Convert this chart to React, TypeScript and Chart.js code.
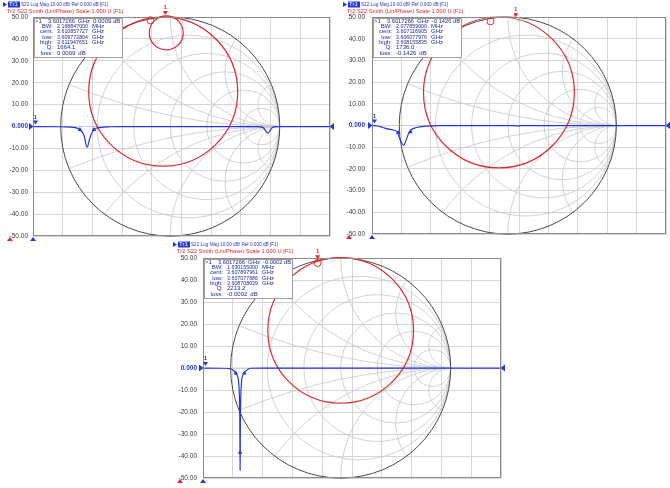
import React, { useEffect, useRef } from "react";
import { Chart, registerables } from "chart.js";

Chart.register(...registerables);

// ---------------- shared axis / grid data ----------------
const Y_TICK_VALUES = [50, 40, 30, 20, 10, 0, -10, -20, -30, -40, -50];
const Y_TICK_LABELS = ["50.00", "40.00", "30.00", "20.00", "10.00", "0.000", "-10.00", "-20.00", "-30.00", "-40.00", "-50.00"];
const X_GRID_VALUES = [0, 1, 2, 3, 4, 5, 6, 7, 8, 9, 10];
const SMITH_R_CIRCLES = [0.2, 0.5, 1, 2, 5];
const SMITH_X_ARCS = [0.2, 0.5, 1, 2, 5];
const SMITH_CENTER_DIV = 4.62;
const SMITH_UNIT_DB = 50;

const HEADER_TR1 = "S22 Log Mag 10.00 dB/ Ref 0.000 dB [F1]";
const HEADER_TR2 = "Tr2 S22 Smith (Lin/Phase) Scale 1.000 U [F1]";
const MARKER_FREQ = "3.6017266";
const MARKER_LABELS = ["BW:", "cent:", "low:", "high:", "Q:", "loss:"];
const MARKER_UNITS = ["MHz", "GHz", "GHz", "GHz", "", "dB"];

// ---------------- panel A (top left) ----------------
const A_FREQ = [0, 1.0, 1.41, 1.58, 1.72, 1.82, 1.92, 2.05, 2.26, 2.6, 3.0, 7.55, 7.75, 7.91, 8.05, 8.2, 10];
const A_LOGMAG = [0, -0.1, -0.45, -1.4, -4.1, -9.5, -5.0, -1.4, -0.45, -0.1, 0, 0, -0.5, -3.0, -0.5, 0, 0];
const A_TRI_FREQ = [1.58, 2.05];
const A_TRI_DB = [-1.4, -1.4];
const A_LOOP_RE = [-0.064, -0.036];
const A_LOOP_IM = [0.318, 0.855];
const A_LOOP_RAD = [0.68, 0.155];
const A_M1 = [-0.045, 1.0];
const A_MC = [-0.18, 0.97];
const A_MARKER_VALUE = "0.0009 dB";
const A_MARKER_ROWS = ["2.168847000", "3.610857727", "3.609772804", "3.611947651", "1664.1", "0.0009"];

// ---------------- panel B (top right) ----------------
const B_FREQ = [0, 0.2, 0.37, 0.61, 0.84, 0.94, 1.08, 1.18, 1.28, 1.52, 1.85, 2.3, 4.9, 4.98, 5.06, 10];
const B_LOGMAG = [0, -0.2, -0.9, -1.8, -2.7, -5.9, -9.1, -5.9, -2.7, -0.9, -0.3, 0, 0, -0.3, 0, 0];
const B_TRI_FREQ = [0.89, 1.31];
const B_TRI_DB = [-3.3, -2.9];
const B_LOOP_RE = [-0.082];
const B_LOOP_IM = [0.305];
const B_LOOP_RAD = [0.695];
const B_M1 = [0.073, 0.98];
const B_MC = [-0.16, 0.96];
const B_MARKER_VALUE = "-0.1426 dB";
const B_MARKER_ROWS = ["2.077859000", "3.607116905", "3.606077976", "3.608155835", "1736.0", "-0.1426"];

// ---------------- panel C (bottom) ----------------
const C_FREQ = [0, 0.8, 1.01, 1.14, 1.21, 1.235, 1.245, 1.255, 1.28, 1.34, 1.48, 1.6, 2.0, 10];
const C_LOGMAG = [0, -0.1, -0.9, -3.2, -9, -24, -46.4, -24, -9, -3.2, -0.9, -0.1, 0, 0];
const C_TRI_FREQ = [1.1, 1.245, 1.39];
const C_TRI_DB = [-2.3, -38.3, -2.3];
const C_LOOP_RE = [0];
const C_LOOP_IM = [0.342];
const C_LOOP_RAD = [0.662];
const C_M1 = [-0.21, 0.97];
const C_MC = [-0.21, 0.955];
const C_MARKER_VALUE = "-0.0002 dB";
const C_MARKER_ROWS = ["1.630155000", "3.607897961", "3.607077886", "3.608708039", "2213.2", "-0.0002"];

// ---------------- styles ----------------
const BLUE = "#2338dc";
const NAVY = "#1c2a9c";
const RED = "#e3282c";
const GRID = "#d6d6d6";
const SMITH_GRID = "#c6c6c6";
const FRAME = "#8c8c8c";
const FONT = "'Liberation Sans', Arial, sans-serif";

type Panel = {
  x: number; y: number; w: number; h: number;
  padTop: number; padRight: number; padBottom: number; axisW: number; tickPad: number;
  freq: number[]; db: number[]; triF: number[]; triDb: number[];
  loopRe: number[]; loopIm: number[]; loopRad: number[];
  m1: number[]; mc: number[]; mValue: string; mRows: string[];
};

const PANELS: Panel[] = [
  { x: 0, y: 0, w: 338, h: 245, padTop: 17, padRight: 8, padBottom: 8, axisW: 33, tickPad: 5,
    freq: A_FREQ, db: A_LOGMAG, triF: A_TRI_FREQ, triDb: A_TRI_DB,
    loopRe: A_LOOP_RE, loopIm: A_LOOP_IM, loopRad: A_LOOP_RAD, m1: A_M1, mc: A_MC,
    mValue: A_MARKER_VALUE, mRows: A_MARKER_ROWS },
  { x: 340, y: 0, w: 330, h: 245, padTop: 17, padRight: 1, padBottom: 8, axisW: 32, tickPad: 7,
    freq: B_FREQ, db: B_LOGMAG, triF: B_TRI_FREQ, triDb: B_TRI_DB,
    loopRe: B_LOOP_RE, loopIm: B_LOOP_IM, loopRad: B_LOOP_RAD, m1: B_M1, mc: B_MC,
    mValue: B_MARKER_VALUE, mRows: B_MARKER_ROWS },
  { x: 170, y: 240, w: 335, h: 248, padTop: 18, padRight: 4, padBottom: 8, axisW: 33, tickPad: 6,
    freq: C_FREQ, db: C_LOGMAG, triF: C_TRI_FREQ, triDb: C_TRI_DB,
    loopRe: C_LOOP_RE, loopIm: C_LOOP_IM, loopRad: C_LOOP_RAD, m1: C_M1, mc: C_MC,
    mValue: C_MARKER_VALUE, mRows: C_MARKER_ROWS },
];

function smithGeom(chart: any) {
  const xs = chart.scales.x;
  const ys = chart.scales.y;
  const cx = xs.getPixelForValue(SMITH_CENTER_DIV);
  const cy = ys.getPixelForValue(0);
  const R = cy - ys.getPixelForValue(SMITH_UNIT_DB);
  return { cx, cy, R, gx: (re: number) => cx + re * R, gy: (im: number) => cy - im * R };
}

function tri(ctx: CanvasRenderingContext2D, pts: number[][], color: string) {
  ctx.fillStyle = color;
  ctx.beginPath();
  ctx.moveTo(pts[0][0], pts[0][1]);
  ctx.lineTo(pts[1][0], pts[1][1]);
  ctx.lineTo(pts[2][0], pts[2][1]);
  ctx.closePath();
  ctx.fill();
}

function smithPlugin(p: Panel) {
  return {
    id: "smith",
    beforeDatasetsDraw(chart: any) {
      const ctx: CanvasRenderingContext2D = chart.ctx;
      const { cx, cy, R, gx, gy } = smithGeom(chart);
      ctx.save();
      ctx.beginPath();
      ctx.arc(cx, cy, R, 0, Math.PI * 2);
      ctx.clip();
      ctx.strokeStyle = SMITH_GRID;
      ctx.lineWidth = 0.8;
      SMITH_R_CIRCLES.forEach((r) => {
        ctx.beginPath();
        ctx.arc(gx(r / (1 + r)), cy, R / (1 + r), 0, Math.PI * 2);
        ctx.stroke();
      });
      SMITH_X_ARCS.forEach((xv) => {
        [1, -1].forEach((s) => {
          ctx.beginPath();
          ctx.arc(gx(1), gy(s / xv), R / xv, 0, Math.PI * 2);
          ctx.stroke();
        });
      });
      ctx.beginPath();
      ctx.moveTo(cx - R, cy);
      ctx.lineTo(cx + R, cy);
      ctx.stroke();
      ctx.restore();

      ctx.save();
      ctx.strokeStyle = "#4a4a4a";
      ctx.lineWidth = 1;
      ctx.beginPath();
      ctx.arc(cx, cy, R, 0, Math.PI * 2);
      ctx.stroke();
      ctx.strokeStyle = RED;
      ctx.lineWidth = 1.2;
      p.loopRe.forEach((re, i) => {
        ctx.beginPath();
        ctx.arc(gx(re), gy(p.loopIm[i]), p.loopRad[i] * R, 0, Math.PI * 2);
        ctx.stroke();
      });
      ctx.restore();
    },
  };
}

function overlayPlugin(p: Panel) {
  return {
    id: "overlay",
    afterDraw(chart: any) {
      const ctx: CanvasRenderingContext2D = chart.ctx;
      const a = chart.chartArea;
      const ys = chart.scales.y;
      const zeroY = ys.getPixelForValue(0);
      const { gx, gy } = smithGeom(chart);
      ctx.save();
      // frame
      ctx.strokeStyle = FRAME;
      ctx.lineWidth = 1;
      ctx.strokeRect(Math.round(a.left) + 0.5, Math.round(a.top) + 0.5, Math.round(a.right - a.left) - 1, Math.round(a.bottom - a.top) - 1);

      // header
      ctx.textBaseline = "middle";
      ctx.textAlign = "left";
      ctx.font = `6px ${FONT}`;
      tri(ctx, [[3, 2], [7, 4.5], [3, 7]], BLUE);
      ctx.fillStyle = BLUE;
      ctx.fillRect(8, 1.5, 12, 6);
      ctx.fillStyle = "#ffffff";
      ctx.fillText("Tr1", 9, 4.7, 10);
      ctx.fillStyle = BLUE;
      ctx.fillText(HEADER_TR1, 21, 4.7, 87);
      ctx.fillStyle = RED;
      ctx.fillText(HEADER_TR2, 7, 11.2, 116);

      // marker table
      const bx = Math.round(a.left) + 1.5;
      const by = Math.round(a.top) + 1.5;
      ctx.fillStyle = "#ffffff";
      ctx.fillRect(bx, by, 88, 39);
      ctx.strokeStyle = "#a0a0a0";
      ctx.strokeRect(bx, by, 88, 39);
      ctx.fillStyle = NAVY;
      ctx.font = `6px ${FONT}`;
      const L = Math.round(a.left);
      const T = Math.round(a.top);
      ctx.fillText(">1", L + 2, T + 4);
      ctx.fillText(MARKER_FREQ, L + 15, T + 4, 27);
      ctx.fillText("GHz", L + 45, T + 4);
      ctx.fillText(p.mValue, L + 60, T + 4, 28);
      MARKER_LABELS.forEach((lab, i) => {
        const ty = T + 9.5 + i * 5.3;
        ctx.textAlign = "right";
        ctx.fillText(lab, L + 20, ty);
        ctx.textAlign = "left";
        ctx.fillText(p.mRows[i], L + 24, ty, 31);
        if (MARKER_UNITS[i]) {
          const uw = i === 5 ? L + 24 + Math.min(31, ctx.measureText(p.mRows[i]).width) + 3 : L + 59;
          ctx.fillText(MARKER_UNITS[i], uw, ty);
        }
      });

      // reference arrows
      tri(ctx, [[a.left - 4, zeroY - 3.5], [a.left + 0.5, zeroY], [a.left - 4, zeroY + 3.5]], BLUE);
      tri(ctx, [[a.right + 4, zeroY - 3.5], [a.right - 0.5, zeroY], [a.right + 4, zeroY + 3.5]], BLUE);
      tri(ctx, [[a.left - 3, a.bottom + 5], [a.left, a.bottom + 1], [a.left + 3, a.bottom + 5]], BLUE);
      tri(ctx, [[a.left - 26, a.bottom + 5], [a.left - 23, a.bottom + 1], [a.left - 20, a.bottom + 5]], RED);

      // blue marker 1 at start of trace
      tri(ctx, [[a.left, zeroY - 6], [a.left + 5, zeroY - 6], [a.left + 2.5, zeroY - 2]], BLUE);
      ctx.fillStyle = BLUE;
      ctx.font = `bold 6px ${FONT}`;
      ctx.textAlign = "center";
      ctx.fillText("1", a.left + 2.5, zeroY - 9.5);

      // red smith markers
      const mx = gx(p.m1[0]);
      const my = gy(p.m1[1]);
      tri(ctx, [[mx - 2.5, my - 6], [mx + 2.5, my - 6], [mx, my - 2]], RED);
      ctx.fillStyle = RED;
      ctx.fillText("1", mx, my - 9.5);
      ctx.strokeStyle = RED;
      ctx.lineWidth = 1;
      ctx.beginPath();
      ctx.arc(gx(p.mc[0]), gy(p.mc[1]), 3.5, 0, Math.PI * 2);
      ctx.stroke();
      ctx.restore();
    },
  };
}

function buildConfig(p: Panel): any {
  return {
    type: "scatter",
    data: {
      datasets: [
        {
          data: p.freq.map((f, i) => ({ x: f, y: p.db[i] })),
          showLine: true,
          borderColor: BLUE,
          borderWidth: 1.2,
          pointRadius: 0,
          cubicInterpolationMode: "monotone",
          fill: false,
        },
        {
          data: p.triF.map((f, i) => ({ x: f, y: p.triDb[i] })),
          showLine: false,
          pointStyle: "triangle",
          pointRadius: 2.6,
          backgroundColor: BLUE,
          borderColor: BLUE,
          borderWidth: 0,
        },
      ],
    },
    options: {
      animation: false,
      responsive: false,
      maintainAspectRatio: false,
      devicePixelRatio: 1,
      events: [],
      layout: { padding: { left: 0, top: p.padTop, right: p.padRight, bottom: p.padBottom } },
      plugins: { legend: { display: false }, tooltip: { enabled: false } },
      scales: {
        x: {
          type: "linear",
          min: 0,
          max: 10,
          afterBuildTicks: (s: any) => { s.ticks = X_GRID_VALUES.map((v) => ({ value: v })); },
          ticks: { display: false },
          grid: { color: GRID, lineWidth: 1, drawTicks: false },
          border: { display: false },
          afterFit: (s: any) => { s.height = 0; },
        },
        y: {
          type: "linear",
          min: -50,
          max: 50,
          afterBuildTicks: (s: any) => { s.ticks = Y_TICK_VALUES.map((v) => ({ value: v })); },
          ticks: {
            autoSkip: false,
            padding: p.tickPad,
            callback: (v: any) => {
              const i = Y_TICK_VALUES.indexOf(Number(v));
              return i >= 0 ? Y_TICK_LABELS[i] : "";
            },
            font: (c: any) => ({ family: FONT, size: 6.5, weight: c.tick && c.tick.value === 0 ? "bold" : "normal" }),
            color: (c: any) => (c.tick && c.tick.value === 0 ? BLUE : "#3c3c3c"),
          },
          grid: { color: GRID, lineWidth: 1, drawTicks: false },
          border: { display: false },
          afterFit: (s: any) => { s.width = p.axisW; },
        },
      },
    },
    plugins: [smithPlugin(p), overlayPlugin(p)],
  };
}

function PanelChart({ p }: { p: Panel }) {
  const ref = useRef<HTMLCanvasElement>(null);
  useEffect(() => {
    const chart = new Chart(ref.current as HTMLCanvasElement, buildConfig(p));
    return () => chart.destroy();
  }, [p]);
  return (
    <canvas
      ref={ref}
      width={p.w}
      height={p.h}
      style={{ position: "absolute", left: p.x, top: p.y, width: p.w, height: p.h }}
    />
  );
}

export default function App() {
  return (
    <div style={{ position: "absolute", left: 0, top: 0, width: 670, height: 488, background: "#ffffff", overflow: "hidden" }}>
      {PANELS.map((p, i) => (
        <PanelChart key={i} p={p} />
      ))}
    </div>
  );
}
